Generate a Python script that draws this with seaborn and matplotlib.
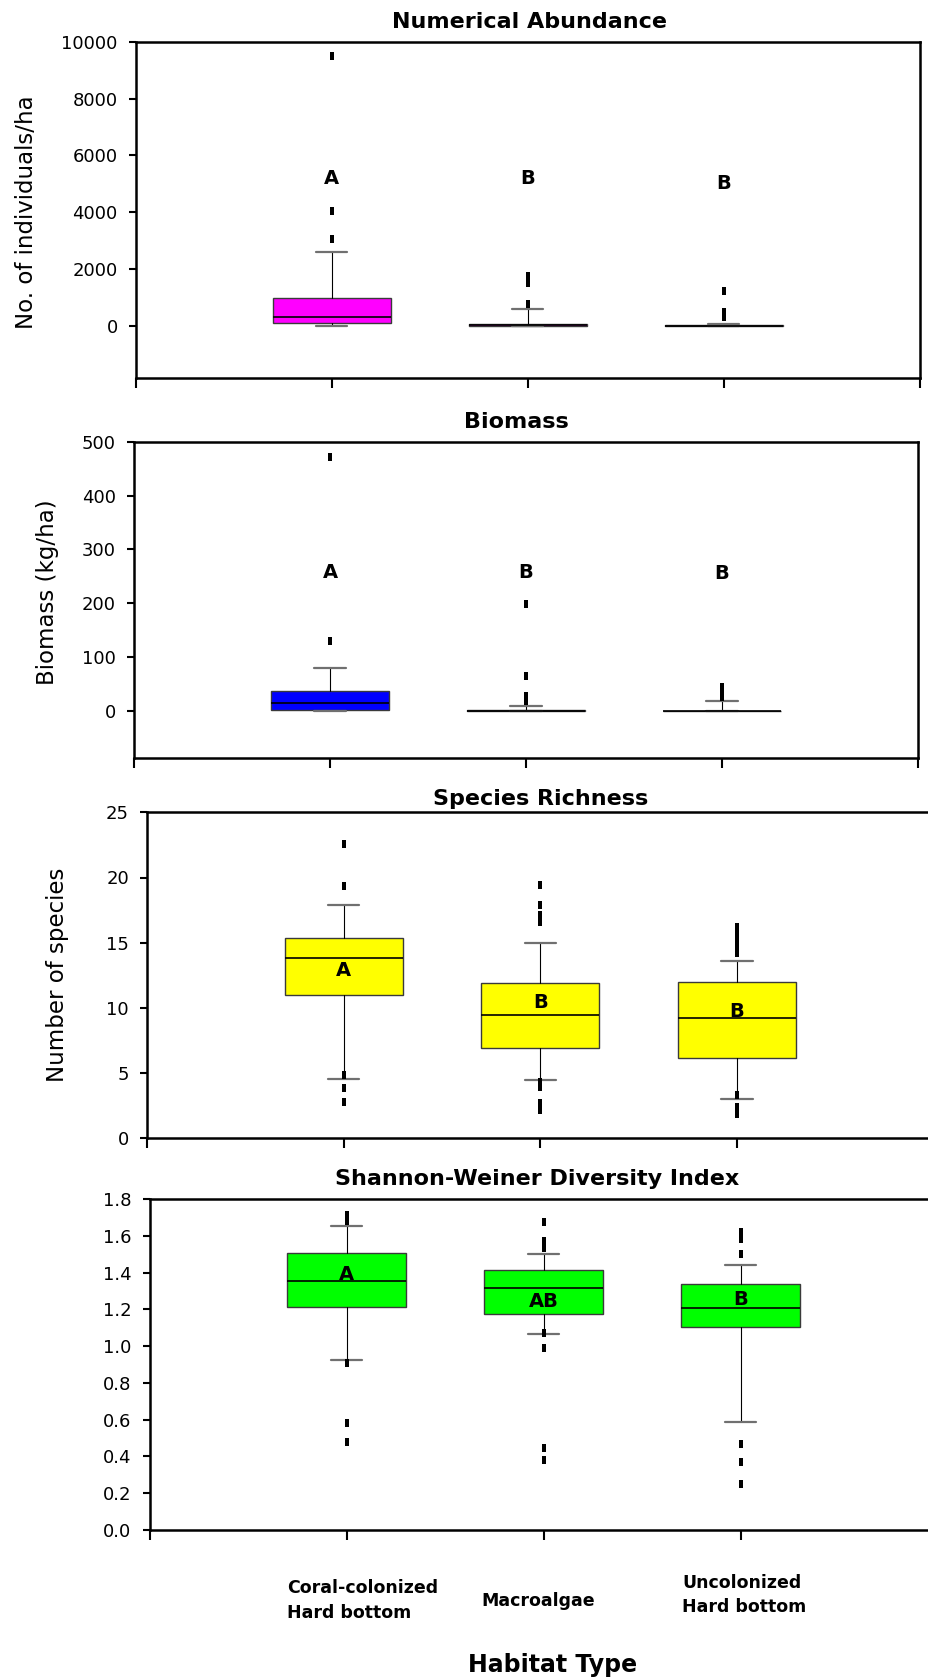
import matplotlib
matplotlib.use("Agg")
import matplotlib.pyplot as plt
import pandas as pd
import seaborn as sns
from matplotlib.ticker import FormatStrFormatter

sns.set_style("ticks")
plt.rcParams["font.family"] = ["DejaVu Sans"]
plt.rcParams["text.color"] = "black"
plt.rcParams["axes.labelcolor"] = "black"
plt.rcParams["xtick.color"] = "black"
plt.rcParams["ytick.color"] = "black"

# ---------------------------------------------------------------- data
habitats = ["Coral-colonized\nHard bottom", "Macroalgae", "Uncolonized\nHard bottom"]

# Numerical abundance (individuals/ha)
abund_whislo = [0, 0, 0]
abund_q1 = [100, 0, 0]
abund_med = [310, 15, 5]
abund_q3 = [980, 50, 20]
abund_whishi = [2600, 585, 55]
abund_fliers = [[3070, 4030, 9510], [780, 1500, 1750], [300, 500, 1240]]
abund_letters = ["A", "B", "B"]
abund_letter_y = [5170, 5190, 5000]

# Biomass (kg/ha)
bio_whislo = [0, 0, 0]
bio_q1 = [2.6, 0, 0]
bio_med = [15.4, 0.5, 0]
bio_q3 = [37.6, 1.5, 0]
bio_whishi = [80, 9.2, 18.4]
bio_fliers = [[129, 471], [19, 27, 65, 198], [26, 33, 40, 45]]
bio_letters = ["A", "B", "B"]
bio_letter_y = [258, 258, 256]

# Species richness (number of species)
rich_whislo = [4.55, 4.5, 3.0]
rich_q1 = [10.96, 6.95, 6.16]
rich_med = [13.85, 9.46, 9.2]
rich_q3 = [15.38, 11.93, 12.01]
rich_whishi = [17.9, 15.0, 13.62]
rich_fliers = [[2.8, 3.87, 4.85, 19.35, 22.6],
               [2.15, 2.7, 3.95, 4.3, 16.6, 17.15, 17.9, 19.45],
               [1.85, 2.4, 3.3, 14.2, 14.7, 15.2, 15.7, 16.2]]
rich_letters = ["A", "B", "B"]
rich_letter_y = [12.9, 10.38, 9.69]

# Shannon-Weiner diversity index
div_whislo = [0.926, 1.068, 0.589]
div_q1 = [1.211, 1.175, 1.102]
div_med = [1.352, 1.314, 1.205]
div_q3 = [1.506, 1.416, 1.339]
div_whishi = [1.655, 1.50, 1.443]
div_fliers = [[0.478, 0.58, 0.91, 1.68, 1.715],
              [0.38, 0.445, 0.99, 1.07, 1.535, 1.57, 1.675],
              [0.25, 0.37, 0.466, 1.50, 1.585, 1.62]]
div_letters = ["A", "AB", "B"]
div_letter_y = [1.392, 1.241, 1.252]

# ---------------------------------------------------------------- layout
W, H, DPI = 929, 1680, 100
fig = plt.figure(figsize=(W / DPI, H / DPI), dpi=DPI)
fig.patch.set_facecolor("white")


def fx(x):
    return x / W


def fy(y):
    return 1 - y / H


def add_axes(left, right, top, bottom):
    return fig.add_axes([fx(left), fy(bottom), (right - left) / W, (bottom - top) / H])


positions = [1, 2, 3]
rect_marker = [(-0.28, -0.5), (0.28, -0.5), (0.28, 0.5), (-0.28, 0.5), (-0.28, -0.5)]

panels = [
    dict(title="Numerical Abundance", ylabel="No. of individuals/ha",
         box=(135.7, 919.7, 41.7, 377.7), ylim=(-1824, 10000),
         yticks=[0, 2000, 4000, 6000, 8000, 10000], fmt=None, color="#FF00FF",
         stats=(abund_whislo, abund_q1, abund_med, abund_q3, abund_whishi),
         fliers=abund_fliers, letters=abund_letters, letter_y=abund_letter_y,
         title_xy=(530, 28.3), ylabel_xy=(27, 212)),
    dict(title="Biomass", ylabel="Biomass (kg/ha)",
         box=(134, 918, 441.7, 758.3), ylim=(-88, 500),
         yticks=[0, 100, 200, 300, 400, 500], fmt=None, color="#0000FF",
         stats=(bio_whislo, bio_q1, bio_med, bio_q3, bio_whishi),
         fliers=bio_fliers, letters=bio_letters, letter_y=bio_letter_y,
         title_xy=(516, 428), ylabel_xy=(48, 592)),
    dict(title="Species Richness", ylabel="Number of species",
         box=(147, 933.8, 812.3, 1138.3), ylim=(0, 25),
         yticks=[0, 5, 10, 15, 20, 25], fmt=None, color="#FFFF00",
         stats=(rich_whislo, rich_q1, rich_med, rich_q3, rich_whishi),
         fliers=rich_fliers, letters=rich_letters, letter_y=rich_letter_y,
         title_xy=(540.6, 805), ylabel_xy=(58, 975)),
    dict(title="Shannon-Weiner Diversity Index", ylabel=None,
         box=(149.6, 937.6, 1199, 1530), ylim=(0, 1.8),
         yticks=[0.0, 0.2, 0.4, 0.6, 0.8, 1.0, 1.2, 1.4, 1.6, 1.8], fmt="%.1f",
         color="#00FF00",
         stats=(div_whislo, div_q1, div_med, div_q3, div_whishi),
         fliers=div_fliers, letters=div_letters, letter_y=div_letter_y,
         title_xy=(537.6, 1185), ylabel_xy=None),
]

for p in panels:
    ax = add_axes(*p["box"])
    lo, q1, med, q3, hi = p["stats"]
    bxp_stats = [dict(whislo=a, q1=b, med=c, q3=d, whishi=e, fliers=[])
                 for a, b, c, d, e in zip(lo, q1, med, q3, hi)]
    ax.bxp(bxp_stats, positions=positions, widths=0.6, capwidths=0.16,
           patch_artist=True, showfliers=False, manage_ticks=False,
           boxprops=dict(facecolor=p["color"], edgecolor="#3a3a3a", linewidth=1.0),
           medianprops=dict(color="black", linewidth=1.2),
           whiskerprops=dict(color="black", linewidth=0.8),
           capprops=dict(color="#707070", linewidth=1.6))

    flier_df = pd.DataFrame(
        [(pos, v) for pos, vals in zip(positions, p["fliers"]) for v in vals],
        columns=["pos", "value"])
    sns.scatterplot(data=flier_df, x="pos", y="value", ax=ax, marker=rect_marker,
                    s=33, color="black", linewidth=0, legend=False, zorder=4)

    for pos, letter, ly in zip(positions, p["letters"], p["letter_y"]):
        ax.text(pos, ly, letter, ha="center", va="center", fontsize=14,
                fontweight="bold", color="black", zorder=5)

    ax.set_xlim(0, 4)
    ax.set_ylim(*p["ylim"])
    ax.set_xticks([0, 1, 2, 3, 4])
    ax.set_xticklabels([])
    ax.set_yticks(p["yticks"])
    if p["fmt"]:
        ax.yaxis.set_major_formatter(FormatStrFormatter(p["fmt"]))
    ax.set_xlabel("")
    ax.set_ylabel("")
    ax.tick_params(axis="y", direction="out", length=5, width=1.5, pad=8,
                   labelsize=13, colors="black")
    ax.tick_params(axis="x", direction="out", length=7, width=1.5, colors="black")
    for side in ["left", "right", "top", "bottom"]:
        ax.spines[side].set_visible(True)
        ax.spines[side].set_linewidth(1.8)
        ax.spines[side].set_color("black")
    ax.set_facecolor("white")
    ax.grid(False)

    tx, ty = p["title_xy"]
    fig.text(fx(tx), fy(ty), p["title"], ha="center", va="baseline",
             fontsize=16, fontweight="bold", color="black")
    if p["ylabel"]:
        lx, ly = p["ylabel_xy"]
        fig.text(fx(lx), fy(ly), p["ylabel"], ha="center", va="center",
                 rotation=90, fontsize=16.5, color="black")

# category labels under the bottom panel
label_left = [287, 481, 682]
label_first_baseline = [1593, 1605.7, 1588]
line_step = 24.5
for name, lx, by in zip(habitats, label_left, label_first_baseline):
    for i, line in enumerate(name.split("\n")):
        fig.text(fx(lx), fy(by + i * line_step), line, ha="left", va="baseline",
                 fontsize=12.5, fontweight="bold", color="black")

fig.text(fx(553), fy(1672), "Habitat Type", ha="center", va="baseline",
         fontsize=17, fontweight="bold", color="black")

fig.savefig("out.png", dpi=DPI, facecolor="white")
